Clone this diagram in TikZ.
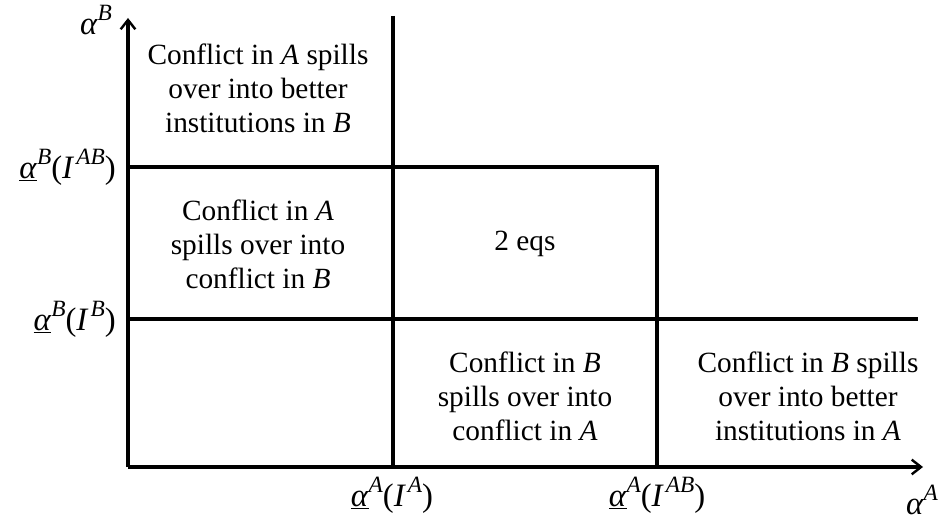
\documentclass[tikz,border=0pt]{standalone}
\usepackage{fontspec}
\setmainfont{Liberation Serif}
\usetikzlibrary{arrows.meta}
\newcommand{\al}{\underline{\textit{α}}}
\newcommand{\vi}[1]{\textit{#1}}
\newcommand{\sups}[1]{\raisebox{0.42em}{\fontsize{17.5}{17.5}\selectfont\textit{#1}}}
\begin{document}
\begin{tikzpicture}[x=0.75pt,y=-0.75pt,
  ln/.style={line width=2.3pt},
  ax/.style={line width=2.3pt,-{Straight Barb[length=7pt,width=11pt,line width=1.8pt]}},
  region/.style={align=center,font=\fontsize{22}{25.5}\selectfont,inner sep=0pt},
  lab/.style={font=\fontsize{24.5}{25.5}\selectfont,inner sep=0pt}]
\useasboundingbox (0,0) rectangle (941,523);
% coordinates
\coordinate (O) at (128,467);
\coordinate (Xend) at (923,467);
\coordinate (Yend) at (128,18);
\coordinate (V1top) at (393,16);
\coordinate (V1bot) at (393,467);
\coordinate (H1l) at (128,167);
\coordinate (H1r) at (657,167);
\coordinate (V2bot) at (657,467);
\coordinate (H2l) at (128,319);
\coordinate (H2r) at (918,319);
% lines
\draw[ax] (O) -- (Xend);
\draw[ax] (O) -- (Yend);
\draw[ln] (V1top) -- (V1bot);
\draw[ln,line join=miter] (H1l) -- (H1r) -- (V2bot);
\draw[ln] (H2l) -- (H2r);
% region texts
\node[region] (r1) at (258,88) {Conflict in \vi{A} spills\\over into better\\institutions in \vi{B}};
\node[region] (r2) at (258,244) {Conflict in \vi{A}\\spills over into\\conflict in \vi{B}};
\node[region] (r3) at (525,244) {2 eqs};
\node[region] (r4) at (525,396) {Conflict in \vi{B}\\spills over into\\conflict in \vi{A}};
\node[region] (r5) at (808,396) {Conflict in \vi{B} spills\\over into better\\institutions in \vi{A}};
% axis labels
\node[lab] (ya) at (96,20) {\textit{α}\sups{B}};
\node[lab,anchor=east] (yb1) at (116,167) {\al\sups{B}(\textit{I}\kern0.06em\sups{AB})};
\node[lab,anchor=east] (yb2) at (116,319) {\al\sups{B}(\textit{I}\kern0.06em\sups{B})};
\node[lab] (xa1) at (392,495) {\al\sups{A}(\textit{I}\kern0.06em\sups{A})};
\node[lab] (xa2) at (657,495) {\al\sups{A}(\textit{I}\kern0.06em\sups{AB})};
\node[lab] (xa) at (922,500) {\textit{α}\sups{A}};
\end{tikzpicture}
\end{document}
